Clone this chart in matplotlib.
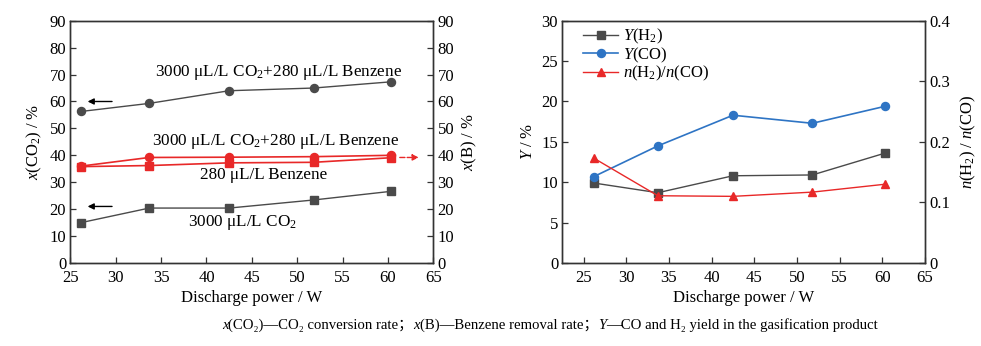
import matplotlib
matplotlib.use("Agg")
import matplotlib.pyplot as plt

plt.rcParams['font.family'] = ['Liberation Serif', 'DejaVu Serif', 'Noto Sans CJK SC']
plt.rcParams['mathtext.fontset'] = 'custom'
plt.rcParams['mathtext.rm'] = 'Liberation Serif'
plt.rcParams['mathtext.it'] = 'Liberation Serif:italic'
plt.rcParams['mathtext.bf'] = 'Liberation Serif:bold'

# ---- data ----
power = [26.2, 33.7, 42.5, 51.8, 60.3]
x_co2_mix = [56.3, 59.3, 64.0, 65.0, 67.3]      # CO2 conversion, CO2+benzene
x_co2_only = [15.0, 20.4, 20.4, 23.4, 26.6]     # CO2 conversion, CO2 only
x_b_mix = [36.0, 39.2, 39.3, 39.5, 40.0]        # benzene removal, CO2+benzene
x_b_only = [35.8, 36.2, 37.2, 37.4, 39.1]       # benzene removal, benzene only

y_h2 = [9.9, 8.7, 10.8, 10.9, 13.6]
y_co = [10.7, 14.5, 18.3, 17.3, 19.4]
ratio = [0.173, 0.111, 0.110, 0.117, 0.130]

left_ticks = [0, 10, 20, 30, 40, 50, 60, 70, 80, 90]
x_ticks = [25, 30, 35, 40, 45, 50, 55, 60, 65]
y2_ticks = [0, 5, 10, 15, 20, 25, 30]
r_ticks = [0, 0.1, 0.2, 0.3, 0.4]
r_labels = ['0', '0.1', '0.2', '0.3', '0.4']

GRAY = '#4a4a4a'
RED = '#e82828'
BLUE = '#2e74c4'
AX = '#333333'
FS = 12

fig = plt.figure(figsize=(9.81, 3.46), dpi=100)

def style(ax):
    for s in ax.spines.values():
        s.set_color(AX)
        s.set_linewidth(1.0)
    ax.tick_params(direction='in', length=4, width=0.9, color=AX, labelsize=FS, pad=3)

# ---- left plot ----
ax1 = fig.add_axes([0.0717, 0.240, 0.370, 0.700])
ax1b = ax1.twinx()
ax1.plot(power, x_co2_mix, '-o', color=GRAY, lw=1.0, ms=5.8)
ax1.plot(power, x_co2_only, '-s', color=GRAY, lw=1.0, ms=5.2)
ax1b.plot(power, x_b_mix, '-o', color=RED, lw=1.2, ms=5.8)
ax1b.plot(power, x_b_only, '-s', color=RED, lw=1.2, ms=5.2)
for a in (ax1, ax1b):
    a.set_ylim(0, 90)
    a.set_yticks(left_ticks)
    style(a)
ax1.set_xlim(25, 65)
ax1.set_xticks(x_ticks)
ax1.set_xlabel('Discharge power / W', fontsize=FS, labelpad=3)
ax1.set_ylabel(r'$\mathit{x}\mathrm{(CO_2)\ /\ \%}$', fontsize=FS, labelpad=4)
ax1b.set_ylabel(r'$\mathit{x}\mathrm{(B)\ /\ \%}$', fontsize=FS, labelpad=4)
ax1.tick_params(axis='x', pad=5)

TFS = 12.3
ax1.text(47.9, 70.8, r'3000 μL/L CO$_2$+280 μL/L Benzene', fontsize=TFS, ha='center', va='center')
ax1.text(47.6, 45.0, r'3000 μL/L CO$_2$+280 μL/L Benzene', fontsize=TFS, ha='center', va='center')
ax1.text(46.3, 32.6, '280 μL/L Benzene', fontsize=TFS, ha='center', va='center')
ax1.text(44.0, 15.2, r'3000 μL/L CO$_2$', fontsize=TFS, ha='center', va='center')

ax1.annotate('', xy=(26.6, 60.0), xytext=(29.9, 60.0),
             arrowprops=dict(arrowstyle='-|>', color='black', lw=1.0, mutation_scale=9))
ax1.annotate('', xy=(26.6, 21.0), xytext=(29.9, 21.0),
             arrowprops=dict(arrowstyle='-|>', color='black', lw=1.0, mutation_scale=9))
ax1.annotate('', xy=(63.7, 39.2), xytext=(61.0, 39.2),
             arrowprops=dict(arrowstyle='-|>', color=RED, lw=1.0, ls='--', mutation_scale=9),
             annotation_clip=False)

# ---- right plot ----
ax2 = fig.add_axes([0.5732, 0.240, 0.3697, 0.700])
ax2b = ax2.twinx()
l1, = ax2.plot(power, y_h2, '-s', color=GRAY, lw=1.0, ms=5.2, label=r'$\mathit{Y}\mathrm{(H_2)}$')
l2, = ax2.plot(power, y_co, '-o', color=BLUE, lw=1.2, ms=5.8, label=r'$\mathit{Y}\mathrm{(CO)}$')
l3, = ax2b.plot(power, ratio, '-^', color=RED, lw=1.0, ms=5.5, label=r'$\mathit{n}\mathrm{(H_2)/}\mathit{n}\mathrm{(CO)}$')
ax2.set_xlim(22.5, 65)
ax2.set_xticks(x_ticks)
ax2.set_ylim(0, 30)
ax2.set_yticks(y2_ticks)
ax2b.set_ylim(0, 0.4)
ax2b.set_yticks(r_ticks)
ax2b.set_yticklabels(r_labels)
style(ax2)
style(ax2b)
ax2.tick_params(axis='x', pad=5)
ax2.set_xlabel('Discharge power / W', fontsize=FS, labelpad=3)
ax2.set_ylabel(r'$\mathit{Y}\mathrm{\ /\ \%}$', fontsize=FS, labelpad=4)
ax2b.set_ylabel(r'$\mathit{n}\mathrm{(H_2)\ /\ }\mathit{n}\mathrm{(CO)}$', fontsize=FS, labelpad=6)
ax2.legend(handles=[l1, l2, l3], loc='upper left', frameon=False, fontsize=FS,
           handlelength=2.1, handletextpad=0.3, labelspacing=-0.05,
           borderaxespad=0.2, bbox_to_anchor=(0.03, 1.015))

# ---- caption (pieces so that symbols are italic) ----
pieces = [('x', 'italic'), ('(CO₂)—CO₂ conversion rate；', 'normal'),
          ('x', 'italic'), ('(B)—Benzene removal rate；', 'normal'),
          ('Y', 'italic'), ('—CO and H₂ yield in the gasification product', 'normal')]
CFS = 10.6
renderer = fig.canvas.get_renderer()
texts = []
for s, st in pieces:
    t = fig.text(0, 0.06, s, fontsize=CFS, style=st, ha='left', va='center')
    texts.append(t)
widths = [t.get_window_extent(renderer).width for t in texts]
total = sum(widths)
W = fig.get_figwidth() * fig.dpi
x0 = 550.0 - total / 2.0
for t, w in zip(texts, widths):
    t.set_x(x0 / W)
    x0 += w

fig.savefig('out.png', dpi=100)
